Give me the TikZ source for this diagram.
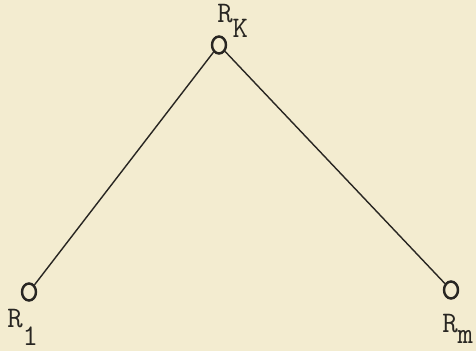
\documentclass[tikz,border=0pt]{standalone}
\usepackage{fontspec}
\usetikzlibrary{shapes.geometric}
\definecolor{paper}{RGB}{243,236,208}
\definecolor{ink}{RGB}{40,38,34}
\newcommand{\rlabel}[2]{R\raisebox{-#2}{#1}}
\begin{document}
\begin{tikzpicture}[every node/.style={font=\ttfamily\fontsize{17}{19}\selectfont, text=ink}]
  % paper
  \fill[paper] (0,0) rectangle (9.52,-7.02);
  \useasboundingbox (0,0) rectangle (9.52,-7.02);
  \tikzset{relay/.style={draw=ink, ellipse, line width=1.4pt, inner sep=0pt, minimum width=0.28cm, minimum height=0.34cm}}

  % relays
  \node[relay] (rk) at (4.38,-0.90) {};
  \node[relay] (r1) at (0.58,-5.84) {};
  \node[relay] (rm) at (9.02,-5.80) {};

  % links
  \draw[ink, line width=0.8pt] (r1) -- (rk);
  \draw[ink, line width=0.8pt] (rk) -- (rm);

  % labels
  \node[anchor=base west, inner sep=0pt] (lk) at (4.34,-0.46) {\rlabel{K}{8.5pt}};
  \node[anchor=base west, inner sep=0pt] (l1) at (0.14,-6.56) {\rlabel{1}{10pt}};
  \node[anchor=base west, inner sep=0pt] (lm) at (8.84,-6.66) {\rlabel{m}{6pt}};
\end{tikzpicture}
\end{document}
